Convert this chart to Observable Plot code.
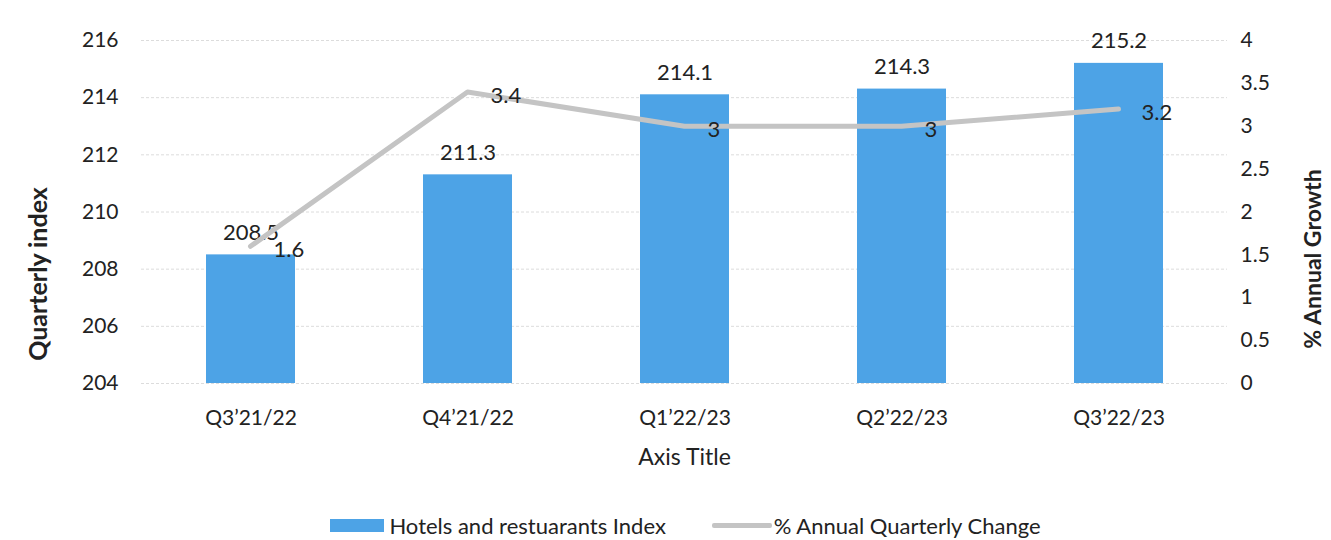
<!DOCTYPE html>
<html>
<head>
<meta charset="utf-8">
<script src="https://cdn.jsdelivr.net/npm/d3@7"></script>
<script src="https://cdn.jsdelivr.net/npm/@observablehq/plot@0.6"></script>
<style>
  body { margin: 0; background: #fff; font-family: Lato, "Open Sans", sans-serif; }
  #wrap { position: relative; width: 1331px; height: 500px; }
  #wrap svg { position: absolute; left: 0; top: 0; background: transparent; }
  #legend { width: 1331px; height: 40px; padding-top: 10px; padding-left: 40px; display: flex; justify-content: center; align-items: center; font-size: 22px; color: #222; box-sizing: border-box; }
  .item { display: flex; align-items: center; }
  .sw-bar { width: 54px; height: 13px; background: #4da3e6; margin-right: 5px; }
  .sw-line { width: 60px; height: 5px; background: #c4c4c4; margin-right: 2px; margin-left: 46px; border-radius: 2px; }
</style>
</head>
<body>
<div id="wrap"></div>
<div id="legend">
  <div class="item"><div class="sw-bar"></div><span>Hotels and restuarants Index</span></div>
  <div class="item"><div class="sw-line"></div><span>% Annual Quarterly Change</span></div>
</div>
<script>
const quarters = ["Q3’21/22", "Q4’21/22", "Q1’22/23", "Q2’22/23", "Q3’22/23"];
const indexValues = [208.5, 211.3, 214.1, 214.3, 215.2];
const pctChange = [1.6, 3.4, 3, 3, 3.2];
const leftTicks = [204, 206, 208, 210, 212, 214, 216];
const rightTicks = [0, 0.5, 1, 1.5, 2, 2.5, 3, 3.5, 4];
const xTitle = "Axis Title";
const yTitle = "Quarterly index";
const y2Title = "% Annual Growth";

const rows = quarters.map((q, i) => ({q, idx: indexValues[i], pct: pctChange[i]}));

const W = 1331, H = 500;
const M = {top: 40, bottom: 117, left: 141, right: 104};
const font = "Lato, 'Open Sans', sans-serif";
const xOpts = {domain: quarters, paddingInner: 0.59, paddingOuter: 0.295};

const barPlot = Plot.plot({
  width: W, height: H,
  marginTop: M.top, marginBottom: M.bottom, marginLeft: M.left, marginRight: M.right,
  style: {fontFamily: font, fontSize: "21px", color: "#222", background: "transparent"},
  x: {...xOpts},
  y: {domain: [204, 216]},
  marks: [
    Plot.ruleY(leftTicks, {stroke: "#dcdcdc", strokeWidth: 1, strokeDasharray: "3,2"}),
    Plot.barY(rows, {x: "q", y1: 204, y2: "idx", fill: "#4da3e6"}),
    Plot.text(rows, {x: "q", y: "idx", text: d => d.idx.toFixed(1), dy: -22, fontSize: 22, fill: "#222"}),
    Plot.axisX({tickSize: 0, tickPadding: 27, fontSize: 21, label: null}),
    Plot.axisY({ticks: leftTicks, tickSize: 0, tickPadding: 23, fontSize: 21, label: null}),
    Plot.text([xTitle], {frameAnchor: "bottom", dy: 81, fontSize: 23, fill: "#222"}),
    Plot.text([yTitle], {frameAnchor: "left", textAnchor: "middle", lineAnchor: "middle", rotate: -90, dx: -103, dy: 62, fontSize: 25, fontWeight: "bold", fill: "#222"})
  ]
});

const linePlot = Plot.plot({
  width: W, height: H,
  marginTop: M.top, marginBottom: M.bottom, marginLeft: M.left, marginRight: M.right,
  style: {fontFamily: font, fontSize: "21px", color: "#222", background: "transparent"},
  x: {...xOpts, axis: null},
  y: {domain: [0, 4], axis: null},
  marks: [
    Plot.lineY(rows, {x: "q", y: "pct", stroke: "#c4c4c4", strokeWidth: 5}),
    Plot.text(rows, {x: "q", y: "pct", text: d => String(d.pct), dx: 23, dy: 4, textAnchor: "start", fontSize: 22, fill: "#222"}),
    Plot.axisY({anchor: "right", ticks: rightTicks, tickFormat: d => String(d), tickSize: 0, tickPadding: 13, fontSize: 21, label: null}),
    Plot.text([y2Title], {frameAnchor: "right", textAnchor: "middle", lineAnchor: "middle", rotate: -90, dx: 86, dy: 47, fontSize: 23, fontWeight: "bold", fill: "#222"})
  ]
});

const wrap = document.getElementById("wrap");
wrap.appendChild(barPlot);
wrap.appendChild(linePlot);
</script>
</body>
</html>
